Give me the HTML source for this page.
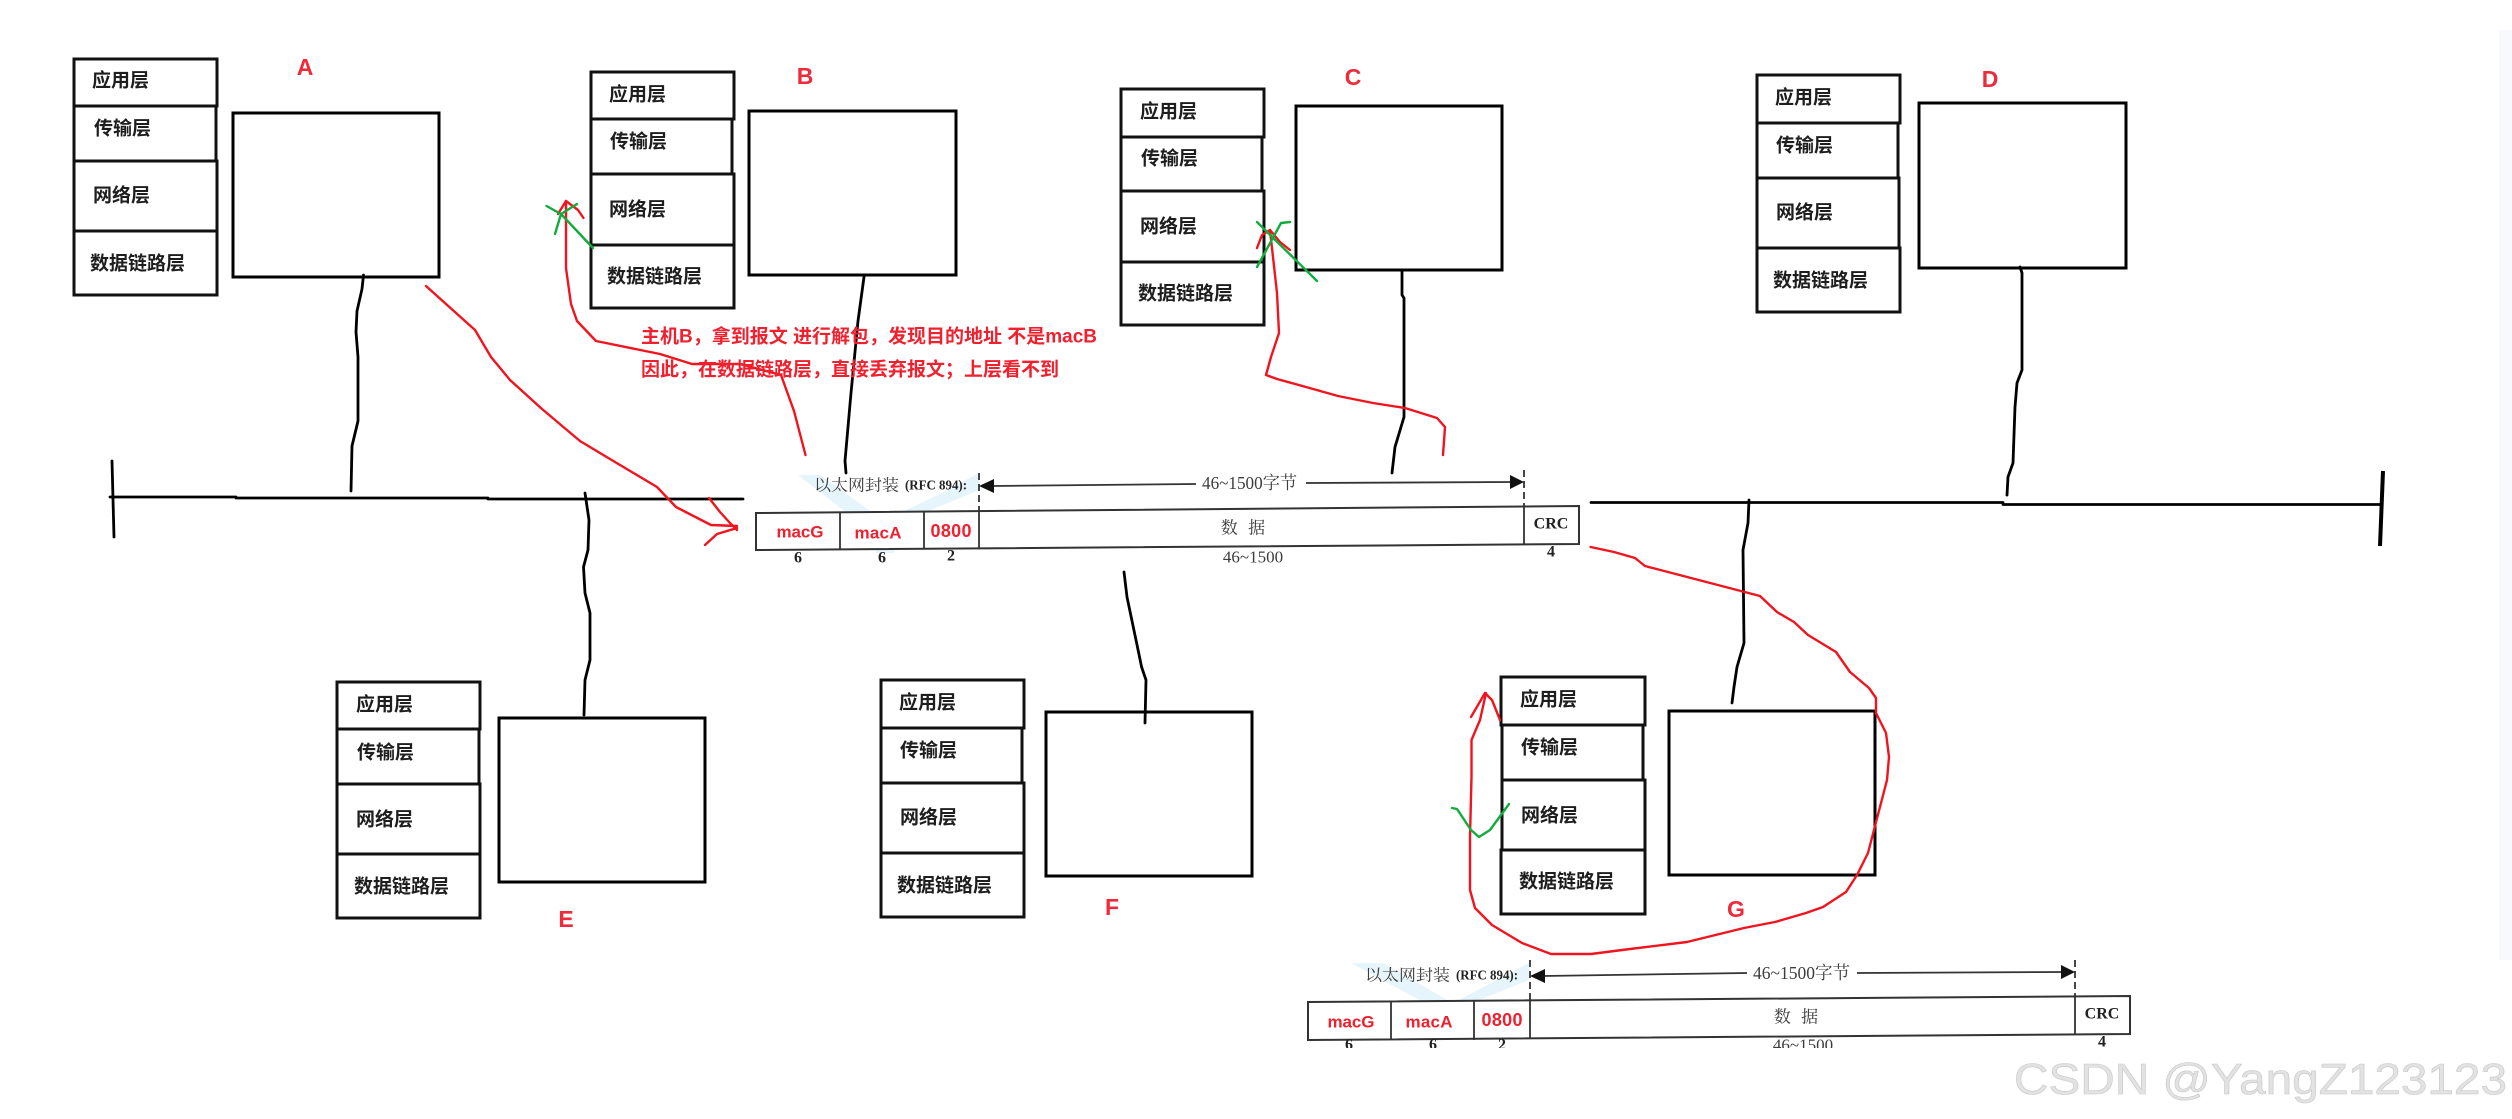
<!DOCTYPE html>
<html lang="zh">
<head>
<meta charset="utf-8">
<title>以太网封装</title>
<style>
html,body{margin:0;padding:0;background:#fff;width:2512px;height:1119px;overflow:hidden}
svg{display:block}
.l{font:bold 19px "Liberation Sans","Noto Sans CJK SC",sans-serif;fill:#1e1e1e;dominant-baseline:central}
.t{font:bold 23px "Liberation Sans","Noto Sans CJK SC",sans-serif;fill:#ee2b3b;text-anchor:middle;dominant-baseline:central}
.r{font:bold 19px "Liberation Sans","Noto Sans CJK SC",sans-serif;fill:#f0202e;dominant-baseline:central}
.m{font:bold 17px "Liberation Sans","Noto Sans CJK SC",sans-serif;fill:#f0202e;text-anchor:middle;dominant-baseline:central}
.s{font:16px "Liberation Serif","Noto Serif CJK SC",serif;fill:#3c3c3c;dominant-baseline:central}
.c{text-anchor:middle}
.b{font-weight:bold;fill:#222}
.k{fill:none;stroke:#000;stroke-width:2.8;stroke-linejoin:round;stroke-linecap:round}
.rd{fill:none;stroke:#f0141e;stroke-width:2.4;stroke-linejoin:round;stroke-linecap:round}
.gr{fill:none;stroke:#12ab3c;stroke-width:2.4;stroke-linejoin:round;stroke-linecap:round}
.bx{fill:#fff;stroke:#000;stroke-width:3}
.ly{fill:#fff;stroke:#111;stroke-width:3}
.f{fill:#fff;stroke:#333;stroke-width:2}
.fl{stroke:#333;stroke-width:1.8;fill:none}
.wm{fill:#e6f5fc}
</style>
</head>
<body>
<svg width="2512" height="1119" viewBox="0 0 2512 1119" xmlns="http://www.w3.org/2000/svg">
<rect width="2512" height="1119" fill="#fff"/>
<rect x="2499" y="30" width="13" height="930" fill="#f8f9fc"/>

<!-- Main bus -->
<path class="k" d="M110 497H236M236 498H488M488 499H743"/>
<path class="k" d="M112 461L114 537"/>
<path class="k" d="M1591 502.500H2003M2003 504.500H2381"/>
<path d="M2383 471L2380 546" fill="none" stroke="#000" stroke-width="4"/>

<!-- Stack A -->
<g>
<rect class="ly" x="74" y="59" width="143" height="47"/>
<rect class="ly" x="74" y="106" width="142" height="55"/>
<rect class="ly" x="74" y="161" width="143" height="70"/>
<rect class="ly" x="74" y="231" width="143" height="64"/>
<text class="l" x="92" y="81">应用层</text><text class="l" x="94" y="129">传输层</text><text class="l" x="93" y="196">网络层</text><text class="l" x="90" y="264">数据链路层</text>
</g>
<rect class="bx" x="233" y="113" width="206" height="164"/>
<text class="t" x="305" y="67">A</text>

<!-- Stack B -->
<g>
<rect class="ly" x="591" y="72" width="143" height="47"/>
<rect class="ly" x="591" y="119" width="141" height="55"/>
<rect class="ly" x="591" y="174" width="143" height="71"/>
<rect class="ly" x="591" y="245" width="143" height="63"/>
<text class="l" x="609" y="95">应用层</text><text class="l" x="610" y="142">传输层</text><text class="l" x="609" y="210">网络层</text><text class="l" x="607" y="277">数据链路层</text>
</g>
<rect class="bx" x="749" y="111" width="207" height="164"/>
<text class="t" x="805" y="76">B</text>

<!-- Stack C -->
<g>
<rect class="ly" x="1121" y="89" width="143" height="48"/>
<rect class="ly" x="1121" y="137" width="141" height="54"/>
<rect class="ly" x="1121" y="191" width="143" height="71"/>
<rect class="ly" x="1121" y="262" width="143" height="63"/>
<text class="l" x="1140" y="112">应用层</text><text class="l" x="1141" y="159">传输层</text><text class="l" x="1140" y="227">网络层</text><text class="l" x="1138" y="294">数据链路层</text>
</g>
<rect class="bx" x="1296" y="106" width="206" height="164"/>
<text class="t" x="1353" y="77">C</text>

<!-- Stack D -->
<g>
<rect class="ly" x="1757" y="75" width="143" height="48"/>
<rect class="ly" x="1757" y="123" width="141" height="55"/>
<rect class="ly" x="1757" y="178" width="142" height="70"/>
<rect class="ly" x="1757" y="248" width="143" height="64"/>
<text class="l" x="1775" y="98">应用层</text><text class="l" x="1776" y="146">传输层</text><text class="l" x="1776" y="213">网络层</text><text class="l" x="1773" y="281">数据链路层</text>
</g>
<rect class="bx" x="1919" y="103" width="207" height="165"/>
<text class="t" x="1990" y="79">D</text>

<!-- Stack E -->
<g>
<rect class="ly" x="337" y="682" width="143" height="47"/>
<rect class="ly" x="337" y="729" width="142" height="55"/>
<rect class="ly" x="337" y="784" width="143" height="70"/>
<rect class="ly" x="337" y="854" width="143" height="64"/>
<text class="l" x="356" y="705">应用层</text><text class="l" x="357" y="753">传输层</text><text class="l" x="356" y="820">网络层</text><text class="l" x="354" y="887">数据链路层</text>
</g>
<rect class="bx" x="499" y="718" width="206" height="164"/>
<text class="t" x="566" y="919">E</text>

<!-- Stack F -->
<g>
<rect class="ly" x="881" y="680" width="143" height="48"/>
<rect class="ly" x="881" y="728" width="141" height="55"/>
<rect class="ly" x="881" y="783" width="143" height="70"/>
<rect class="ly" x="881" y="853" width="143" height="64"/>
<text class="l" x="899" y="703">应用层</text><text class="l" x="900" y="751">传输层</text><text class="l" x="900" y="818">网络层</text><text class="l" x="897" y="886">数据链路层</text>
</g>
<rect class="bx" x="1046" y="712" width="206" height="164"/>
<text class="t" x="1112" y="907">F</text>

<!-- Stack G -->
<g>
<rect class="ly" x="1501" y="677" width="144" height="48"/>
<rect class="ly" x="1502" y="725" width="141" height="55"/>
<rect class="ly" x="1502" y="780" width="143" height="70"/>
<rect class="ly" x="1501" y="850" width="144" height="64"/>
<text class="l" x="1520" y="700">应用层</text><text class="l" x="1521" y="748">传输层</text><text class="l" x="1521" y="816">网络层</text><text class="l" x="1519" y="882">数据链路层</text>
</g>
<rect class="bx" x="1669" y="711" width="206" height="164"/>
<text class="t" x="1736" y="909">G</text>

<!-- Black connectors -->
<path class="k" d="M363.500 275L362 289L357 311L356 332L358 357L358 421L352 446L351 491"/>
<path class="k" d="M585 493L589 520L588 550L583.500 567L585 593L590 613L590 660L585 680L584 715"/>
<path class="k" d="M864 277L858 321L851 393L845 461L846 473"/>
<path class="k" d="M1402 270L1402 295L1404 298L1404 417L1395 447L1392 473"/>
<path class="k" d="M1124 572L1127 597L1136 640L1141.600 667L1146 680L1145 723"/>
<path class="k" d="M1749 500L1748 523L1743 550L1744 643L1737 667L1734 687L1732 703"/>
<path class="k" d="M2020 267L2022 273L2022 370L2017 383L2015 407L2013 463L2008 477L2007 495"/>

<!-- Frame 1 -->
<path class="wm" d="M798 475H820L873 513H847ZM979 473V490L924 513H900L942 493Z"/>
<rect class="wm" x="876" y="550" width="18" height="3"/>
<g>
<path class="f" d="M756 513L1579 506V544L756 550Z"/>
<path class="fl" d="M840 513V550M924 512V549M979 512V549M1524 507V544"/>
<path d="M979 473V512M1524 470V507" stroke="#333" stroke-width="1.800" stroke-dasharray="7 4" fill="none"/>
<path class="fl" d="M992 486L1196 484M1306 483L1512 482"/>
<path d="M979 486L994 479V493ZM1524 482L1510 475V489Z" fill="#111"/>
<text class="s" x="814" y="486" textLength="85" lengthAdjust="spacingAndGlyphs">以太网封装</text>
<text class="s b" x="905" y="486" textLength="62" lengthAdjust="spacingAndGlyphs" style="font-size:14px">(RFC 894):</text>
<text class="s" x="1202" y="483" textLength="95" lengthAdjust="spacingAndGlyphs" style="font-size:18px">46~1500字节</text>
<text class="s c" x="1243" y="528" style="font-size:17px;word-spacing:6px">数 据</text>
<text class="s c" x="1253" y="557" style="font-size:17px">46~1500</text>
<text class="s c b" x="1551" y="524">CRC</text>
<text class="s c b" x="798" y="558">6</text><text class="s c b" x="882" y="558">6</text><text class="s c b" x="951" y="556">2</text><text class="s c b" x="1551" y="552">4</text>
<text class="m" x="800" y="532" textLength="47">macG</text>
<text class="m" x="878" y="533" textLength="47">macA</text>
<text class="m" x="951" y="531" textLength="41" style="font-size:18px">0800</text>
</g>

<!-- Frame 2 -->
<path class="wm" d="M1351 963H1383L1451 1002H1423ZM1529 963V980L1474 1002H1455L1491 983Z"/>
<g>
<path class="f" d="M1308 1002L2130 996V1034L1308 1040Z"/>
<path class="fl" d="M1391 1002V1040M1474 1001V1040M1530 1001V1039M2075 997V1035"/>
<path d="M1530 960V1001M2075 960V997" stroke="#333" stroke-width="1.800" stroke-dasharray="7 4" fill="none"/>
<path class="fl" d="M1543 976L1747 973M1857 973L2063 972"/>
<path d="M1530 976L1545 969V983ZM2075 972L2061 965V979Z" fill="#111"/>
<text class="s" x="1365" y="976" textLength="85" lengthAdjust="spacingAndGlyphs">以太网封装</text>
<text class="s b" x="1456" y="976" textLength="62" lengthAdjust="spacingAndGlyphs" style="font-size:14px">(RFC 894):</text>
<text class="s" x="1753" y="973" textLength="97" lengthAdjust="spacingAndGlyphs" style="font-size:18px">46~1500字节</text>
<text class="s c" x="1796" y="1017" style="font-size:17px;word-spacing:6px">数 据</text>
<text class="s c" x="1803" y="1045" style="font-size:17px">46~1500</text>
<text class="s c b" x="2102" y="1014">CRC</text>
<text class="s c b" x="1349" y="1045">6</text><text class="s c b" x="1433" y="1045">6</text><text class="s c b" x="1502" y="1045">2</text><text class="s c b" x="2102" y="1042">4</text>
<text class="m" x="1351" y="1022" textLength="47">macG</text>
<text class="m" x="1429" y="1022" textLength="47">macA</text>
<text class="m" x="1502" y="1020" textLength="41" style="font-size:18px">0800</text>
</g>
<rect x="1290" y="1048" width="860" height="12" fill="#fff"/>

<!-- Red curves -->
<path class="rd" d="M426 286L446 304L475 330L491 357L510 380L542 409L580 441L615 462L657 487L676 507L711 525L737 526"/>
<path class="rd" d="M709 498L720 512L730 523L737 530M705 545L717 534L737 528"/>
<path class="rd" d="M805.500 455L794 411L781 375L740 364L692 364L660 354L596 341L577 321L571 304L566 268L566 201"/>
<path class="rd" d="M558 214L566 201L578 210L583.500 218"/>
<path class="gr" d="M546.500 206L561 214L593 248M577 204L561 214L555 234"/>
<path class="rd" d="M1443 455L1445 427L1437 418L1405 408L1373 403L1338 396L1306 387L1277 379L1266 375L1271 357L1279 333L1277 293L1270 230"/>
<path class="rd" d="M1257 248L1262 235L1270 230L1280 242L1290 250"/>
<path class="gr" d="M1257 222L1317 281M1290 222L1281 223L1257 267"/>
<path class="rd" d="M1590.600 547L1614 552L1635 558L1645 566L1760 596L1777 612L1794 622L1808 635L1836 652L1850 672L1869 688L1876 698L1876 713L1886 733L1889 757L1887 780L1874.500 828L1868 853L1857 875L1846 892L1823 907L1806 913L1775 922L1744 928L1687 942L1630 949L1591 954L1551 954L1522 943L1492 925L1475 908L1470 890L1470 837L1471.500 777L1471.500 740L1480 720L1486 693"/>
<path class="rd" d="M1471 717L1485 693L1492 700L1500 720"/>
<path class="gr" d="M1452 808L1457 809L1471 830L1479 837L1490 830L1509 804"/>

<!-- Red notes -->
<text class="r" x="641" y="337">主机B，拿到报文 进行解包，发现目的地址 不是macB</text>
<text class="r" x="641" y="370">因此，在数据链路层，直接丢弃报文；上层看不到</text>

<!-- Watermark -->
<text x="2014" y="1094" textLength="493" lengthAdjust="spacingAndGlyphs" style="font:44px 'Liberation Sans',sans-serif;fill:#e2e2e2;stroke:#c8c8c8;stroke-width:.6">CSDN @YangZ123123</text>
</svg>
</body>
</html>
